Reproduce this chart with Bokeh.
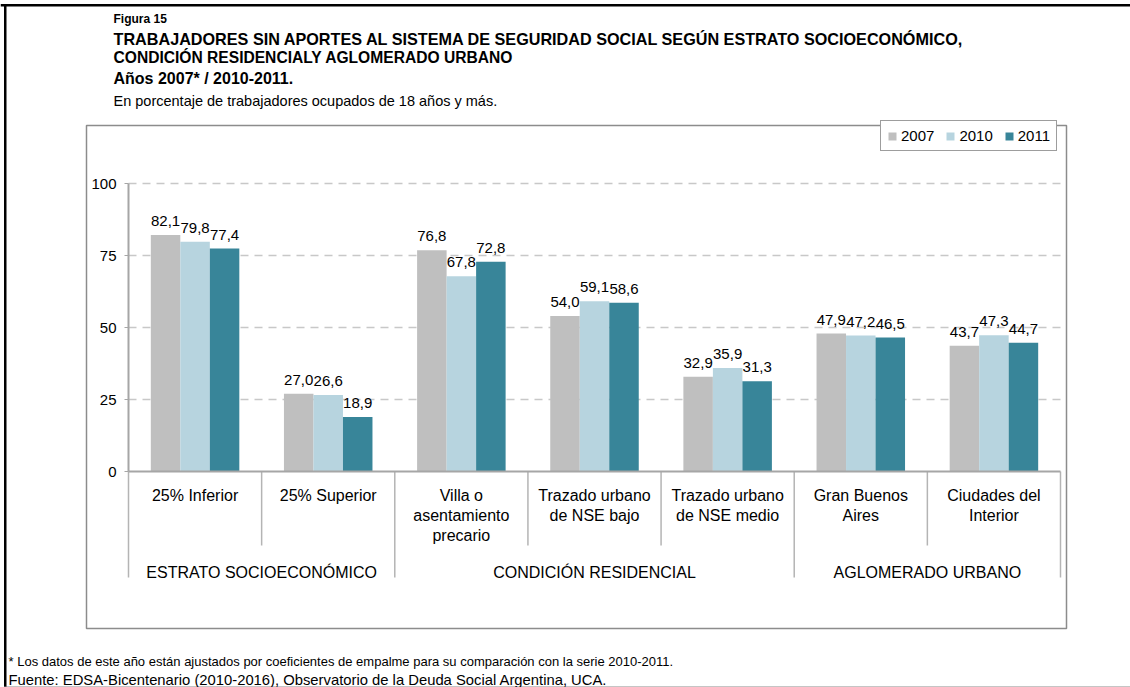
from bokeh.plotting import figure
from bokeh.models import (ColumnDataSource, Range1d, FixedTicker, Legend, LegendItem,
                          LabelSet, Label)
from bokeh.core.properties import value
from bokeh.embed import file_html
from bokeh.resources import INLINE

# ---------------- data ----------------
categories = ["25% Inferior", "25% Superior", "Villa o\nasentamiento\nprecario",
              "Trazado urbano\nde NSE bajo", "Trazado urbano\nde NSE medio",
              "Gran Buenos\nAires", "Ciudades del\nInterior"]
groups = ["ESTRATO SOCIOECONÓMICO", "CONDICIÓN RESIDENCIAL", "AGLOMERADO URBANO"]
group_sizes = [2, 3, 2]
years = ["2007", "2010", "2011"]
v2007 = [82.1, 27.0, 76.8, 54.0, 32.9, 47.9, 43.7]
v2010 = [79.8, 26.6, 67.8, 59.1, 35.9, 47.2, 47.3]
v2011 = [77.4, 18.9, 72.8, 58.6, 31.3, 46.5, 44.7]
y_ticks = [0, 25, 50, 75, 100]

title_lines = ["Figura 15",
               "TRABAJADORES SIN APORTES AL SISTEMA DE SEGURIDAD SOCIAL SEGÚN ESTRATO SOCIOECONÓMICO,",
               "CONDICIÓN RESIDENCIALY AGLOMERADO URBANO",
               "Años 2007* / 2010-2011."]
subtitle = "En porcentaje de trabajadores ocupados de 18 años y más."
footnotes = ["* Los datos de este año están ajustados por coeficientes de empalme para su comparación con la serie 2010-2011.",
             "Fuente: EDSA-Bicentenario (2010-2016), Observatorio de la Deuda Social Argentina, UCA."]

# ---------------- style / layout ----------------
FONT = "Liberation Sans"
COLORS = ["#bfbfbf", "#b7d4df", "#388599"]
AXIS = "#a6a6a6"
SEP = "#b4b4b4"
BOXC = "#8c8c8c"
GRID = "#c8c8c8"

W, H = 1130, 687
AX_X0, AX_X1 = 128, 1060      # canvas px of category 0 and category 7
AX_Y0, AX_Y100 = 471, 183     # canvas px of value 0 and value 100
NCAT = len(categories)
SX = (AX_X1 - AX_X0) / NCAT
SY = (AX_Y0 - AX_Y100) / 100.0


def X(cx):
    return (cx - AX_X0) / SX


def Y(cy):
    return (AX_Y0 - cy) / SY


p = figure(width=W, height=H, x_range=Range1d(X(0), X(W)), y_range=Range1d(Y(H), Y(0)),
           output_backend="svg", toolbar_location=None, title=None)
p.min_border = 0
p.min_border_left = p.min_border_right = p.min_border_top = p.min_border_bottom = 0
p.outline_line_color = None
p.background_fill_color = "white"
p.border_fill_color = "white"
p.xgrid.visible = False
p.ygrid.visible = False

# ---------- axes (fixed at the data origin) ----------
centers = [i + 0.5 for i in range(NCAT)]
xa = p.xaxis[0]
xa.fixed_location = 0
xa.bounds = (0, NCAT)
xa.ticker = FixedTicker(ticks=centers)
xa.major_label_overrides = {c: n for c, n in zip(centers, categories)}
xa.axis_line_color = AXIS
xa.axis_line_width = 2
xa.major_tick_out = 0
xa.major_tick_in = 0
xa.minor_tick_out = 0
xa.minor_tick_in = 0
xa.major_label_text_font = FONT
xa.major_label_text_font_size = "16px"
xa.major_label_text_color = "black"
xa.major_label_standoff = 15

ya = p.yaxis[0]
ya.fixed_location = 0
ya.bounds = (0, 100)
ya.ticker = FixedTicker(ticks=y_ticks)
ya.axis_line_color = AXIS
ya.axis_line_width = 2
ya.major_tick_out = 4
ya.major_tick_in = 0
ya.major_tick_line_color = AXIS
ya.minor_tick_out = 0
ya.minor_tick_in = 0
ya.major_label_text_font = FONT
ya.major_label_text_font_size = "15px"
ya.major_label_text_color = "black"
ya.major_label_standoff = 8

# ---------- frame decorations ----------
# outer frame: black rules on top and left, grey rule at the bottom
p.quad(left=[X(0)], right=[X(W)], top=[Y(3.5)], bottom=[Y(6)], fill_color="black",
       line_color=None)
p.quad(left=[X(3.5)], right=[X(6)], top=[Y(3.5)], bottom=[Y(H)], fill_color="black",
       line_color=None)
p.quad(left=[X(3.5)], right=[X(W)], top=[Y(686)], bottom=[Y(687)], fill_color="#8c8c8c",
       line_color=None)
# inner chart box
p.quad(left=[X(86)], right=[X(1066)], top=[Y(125)], bottom=[Y(628)], fill_alpha=0,
       line_color=BOXC, line_width=1.5)

# dashed grid lines
gt = [t for t in y_ticks if t > 0]
p.segment(x0=[0] * len(gt), x1=[NCAT] * len(gt), y0=gt, y1=gt, line_color=GRID,
          line_width=1.5, line_dash="8 6")

# separators below the x axis
bounds = [0]
for s in group_sizes:
    bounds.append(bounds[-1] + s)
sep_x = list(range(NCAT + 1))
sep_end = [Y(577) if i in bounds else Y(545) for i in sep_x]
p.segment(x0=sep_x, x1=sep_x, y0=[0] * len(sep_x), y1=sep_end, line_color=SEP,
          line_width=1.5)

# ---------- bars ----------
BW = 0.2216
offsets = [-BW, 0.0, BW]
legend_items = []
for yr, vals, col, off in zip(years, [v2007, v2010, v2011], COLORS, offsets):
    src = ColumnDataSource(dict(x=[c + off for c in centers], top=vals,
                                label=[f"{v:.1f}".replace(".", ",") for v in vals]))
    r = p.vbar(x="x", top="top", bottom=0, width=BW, fill_color=col, line_color=None,
               source=src)
    legend_items.append(LegendItem(label=yr, renderers=[r]))
    p.add_layout(LabelSet(x="x", y="top", text="label", source=src, text_align="center",
                          text_baseline="alphabetic", y_offset=9,
                          text_font=value(FONT), text_font_size=value("15px"),
                          text_color="black"))

legend = Legend(items=legend_items, orientation="horizontal",
                location=(880, H - 151),
                margin=0, padding=6, spacing=11, glyph_width=10, glyph_height=10,
                label_standoff=4, label_height=14, label_text_font=FONT,
                label_text_font_size="15px", label_text_color="black",
                border_line_color="#3c3c3c", border_line_width=1,
                background_fill_color="white", background_fill_alpha=1)
p.add_layout(legend)

# ---------- group labels ----------
for g, a, b in zip(groups, bounds[:-1], bounds[1:]):
    p.add_layout(Label(x=(a + b) / 2, y=Y(572), text=g, text_align="center",
                       text_baseline="alphabetic", text_font=FONT, text_font_size="16px",
                       text_color="black"))

# ---------- titles ----------
title_base = [18, 38, 57, 78]
title_size = ["12px", "16.2px", "15.6px", "16px"]
for t, b, s in zip(title_lines, title_base, title_size):
    p.add_layout(Label(x=X(113), y=Y(b), text=t, text_align="left",
                       text_baseline="alphabetic", text_font=FONT, text_font_size=s,
                       text_font_style="bold", text_color="black"))
p.add_layout(Label(x=X(113), y=Y(100), text=subtitle, text_align="left",
                   text_baseline="alphabetic", text_font=FONT, text_font_size="14.5px",
                   text_color="black"))

# ---------- footnotes ----------
for t, b, s in zip(footnotes, [661, 679], ["13px", "14.8px"]):
    p.add_layout(Label(x=X(8), y=Y(b), text=t, text_align="left",
                       text_baseline="alphabetic", text_font=FONT, text_font_size=s,
                       text_color="black"))

open("out.html", "w").write(file_html(p, INLINE))
